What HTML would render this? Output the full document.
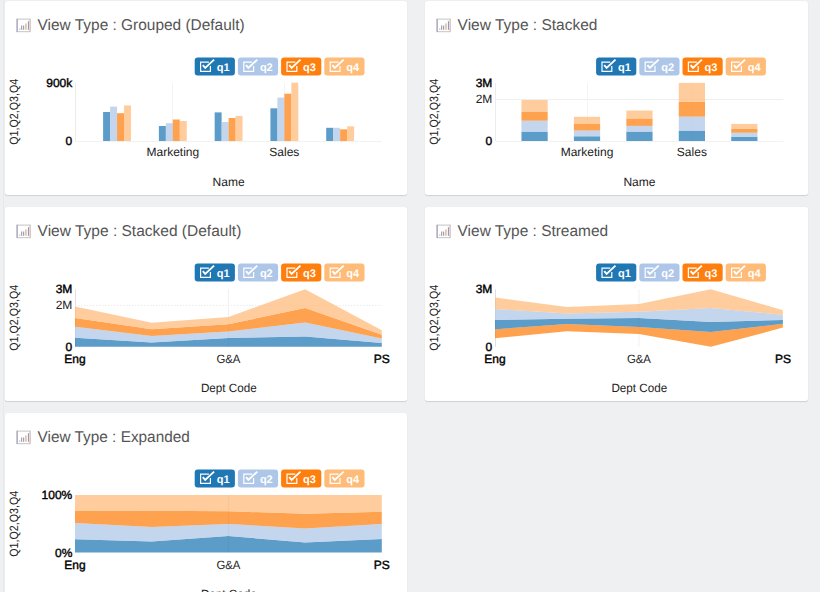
<!DOCTYPE html>
<html><head><meta charset="utf-8"><style>
html,body{margin:0;padding:0;}
body{width:820px;height:592px;overflow:hidden;background:#eff0f2;position:relative;font-family:"Liberation Sans", sans-serif;}
.card{position:absolute;background:#fff;border-radius:2.5px;box-shadow:0 1px 1px rgba(0,0,0,0.13),0 0 1px rgba(0,0,0,0.06);overflow:hidden;}
.card svg{display:block;font-family:"Liberation Sans", sans-serif;text-rendering:geometricPrecision;}
.strip{position:absolute;left:3px;top:0;width:1px;height:592px;background:#e8e9ec;}
</style></head><body>
<div class="strip"></div>
<div class="card" style="left:5px;top:1px;width:402px;height:194px"><svg width="402" height="194" viewBox="5 1 402 194"><rect x="17.1" y="19.1" width="13" height="12.6" fill="none" stroke="#c4c4c4" stroke-width="1"/><line x1="17.1" y1="18.8" x2="17.1" y2="31.9" stroke="#9b97b5" stroke-width="1"/><line x1="30.1" y1="18.8" x2="30.1" y2="31.9" stroke="#d9c8b0" stroke-width="1"/><rect x="19.2" y="28.4" width="1.1" height="1.4" fill="#b3bccc"/><rect x="21.1" y="25.5" width="1.1" height="4.3" fill="#8d9cbf"/><rect x="23.1" y="25.5" width="1.1" height="4.3" fill="#b58c8c"/><rect x="25.4" y="23.4" width="1.1" height="6.4" fill="#c9a88a"/><rect x="27.9" y="21.2" width="1.1" height="8.6" fill="#9d94c4"/><text x="37.6" y="30.1" font-size="15.6" textLength="207" lengthAdjust="spacingAndGlyphs" fill="#555">View Type : Grouped (Default)</text><rect x="194.7" y="57.4" width="40.2" height="18" rx="3" fill="#1f77b4"/><path d="M208.9 62.1H200.6V71.3H210.4V66" fill="none" stroke="#fff" stroke-width="1.2"/><path d="M202.8 65.2L205.2 67.9L214.1 59.6" fill="none" stroke="#fff" stroke-width="1.9"/><text x="216.7" y="70.8" font-size="11" font-weight="700" fill="#fff">q1</text><rect x="237.9" y="57.4" width="40.2" height="18" rx="3" fill="#aec7e8"/><path d="M252.1 62.1H243.8V71.3H253.6V66" fill="none" stroke="#fff" stroke-width="1.2"/><path d="M246 65.2L248.4 67.9L257.3 59.6" fill="none" stroke="#fff" stroke-width="1.9"/><text x="259.9" y="70.8" font-size="11" font-weight="700" fill="#fff">q2</text><rect x="281.1" y="57.4" width="40.2" height="18" rx="3" fill="#ff7f0e"/><path d="M295.3 62.1H287V71.3H296.8V66" fill="none" stroke="#fff" stroke-width="1.2"/><path d="M289.2 65.2L291.6 67.9L300.5 59.6" fill="none" stroke="#fff" stroke-width="1.9"/><text x="303.1" y="70.8" font-size="11" font-weight="700" fill="#fff">q3</text><rect x="324.3" y="57.4" width="40.2" height="18" rx="3" fill="#ffbb78"/><path d="M338.5 62.1H330.2V71.3H340V66" fill="none" stroke="#fff" stroke-width="1.2"/><path d="M332.4 65.2L334.8 67.9L343.7 59.6" fill="none" stroke="#fff" stroke-width="1.9"/><text x="346.3" y="70.8" font-size="11" font-weight="700" fill="#fff">q4</text><text x="13.6" y="111.8" transform="rotate(-90 13.6 111.8)" text-anchor="middle" dominant-baseline="central" font-size="12" textLength="66" lengthAdjust="spacingAndGlyphs" fill="#222">Q1,Q2,Q3,Q4</text><line x1="75.5" y1="82.7" x2="75.5" y2="141" stroke="#ececec" stroke-width="1"/><line x1="75.5" y1="141.5" x2="381.7" y2="141.5" stroke="#f2f2f2" stroke-width="1"/><line x1="172.5" y1="83" x2="172.5" y2="141" stroke="#f4f4f4" stroke-width="1"/><line x1="284.5" y1="83" x2="284.5" y2="141" stroke="#f4f4f4" stroke-width="1"/><rect x="103.11" y="112" width="6.97" height="29" fill="#1f77b4" fill-opacity="0.73"/><rect x="110.08" y="106.6" width="6.97" height="34.4" fill="#aec7e8" fill-opacity="0.73"/><rect x="117.05" y="113.2" width="6.97" height="27.8" fill="#ff7f0e" fill-opacity="0.73"/><rect x="124.02" y="105.4" width="6.97" height="35.6" fill="#ffbb78" fill-opacity="0.73"/><rect x="158.88" y="126" width="6.97" height="15" fill="#1f77b4" fill-opacity="0.73"/><rect x="165.85" y="123.2" width="6.97" height="17.8" fill="#aec7e8" fill-opacity="0.73"/><rect x="172.83" y="119.5" width="6.97" height="21.5" fill="#ff7f0e" fill-opacity="0.73"/><rect x="179.8" y="121" width="6.97" height="20" fill="#ffbb78" fill-opacity="0.73"/><rect x="214.66" y="112.4" width="6.97" height="28.6" fill="#1f77b4" fill-opacity="0.73"/><rect x="221.63" y="122" width="6.97" height="19" fill="#aec7e8" fill-opacity="0.73"/><rect x="228.6" y="118" width="6.97" height="23" fill="#ff7f0e" fill-opacity="0.73"/><rect x="235.57" y="115.9" width="6.97" height="25.1" fill="#ffbb78" fill-opacity="0.73"/><rect x="270.43" y="108.3" width="6.97" height="32.7" fill="#1f77b4" fill-opacity="0.73"/><rect x="277.4" y="97.6" width="6.97" height="43.4" fill="#aec7e8" fill-opacity="0.73"/><rect x="284.37" y="93.7" width="6.97" height="47.3" fill="#ff7f0e" fill-opacity="0.73"/><rect x="291.35" y="82.7" width="6.97" height="58.3" fill="#ffbb78" fill-opacity="0.73"/><rect x="326.2" y="127.8" width="6.97" height="13.2" fill="#1f77b4" fill-opacity="0.73"/><rect x="333.18" y="127.8" width="6.97" height="13.2" fill="#aec7e8" fill-opacity="0.73"/><rect x="340.15" y="129.3" width="6.97" height="11.7" fill="#ff7f0e" fill-opacity="0.73"/><rect x="347.12" y="126.3" width="6.97" height="14.7" fill="#ffbb78" fill-opacity="0.73"/><text x="72.3" y="87.2" text-anchor="end" font-size="12" fill="#000" stroke="#000" stroke-width="0.4">900k</text><text x="72.3" y="144.8" text-anchor="end" font-size="12" fill="#000" stroke="#000" stroke-width="0.4">0</text><text x="172.83" y="156" text-anchor="middle" font-size="12" fill="#222">Marketing</text><text x="284.37" y="156" text-anchor="middle" font-size="12" fill="#222">Sales</text><text x="228.6" y="186" text-anchor="middle" font-size="12" fill="#222">Name</text></svg></div><div class="card" style="left:425px;top:1px;width:383px;height:194px"><svg width="383" height="194" viewBox="425 1 383 194"><rect x="437.1" y="19.1" width="13" height="12.6" fill="none" stroke="#c4c4c4" stroke-width="1"/><line x1="437.1" y1="18.8" x2="437.1" y2="31.9" stroke="#9b97b5" stroke-width="1"/><line x1="450.1" y1="18.8" x2="450.1" y2="31.9" stroke="#d9c8b0" stroke-width="1"/><rect x="439.2" y="28.4" width="1.1" height="1.4" fill="#b3bccc"/><rect x="441.1" y="25.5" width="1.1" height="4.3" fill="#8d9cbf"/><rect x="443.1" y="25.5" width="1.1" height="4.3" fill="#b58c8c"/><rect x="445.4" y="23.4" width="1.1" height="6.4" fill="#c9a88a"/><rect x="447.9" y="21.2" width="1.1" height="8.6" fill="#9d94c4"/><text x="457.6" y="30.1" font-size="15.6" textLength="139.8" lengthAdjust="spacingAndGlyphs" fill="#555">View Type : Stacked</text><rect x="596.1" y="57.4" width="40.2" height="18" rx="3" fill="#1f77b4"/><path d="M610.3 62.1H602V71.3H611.8V66" fill="none" stroke="#fff" stroke-width="1.2"/><path d="M604.2 65.2L606.6 67.9L615.5 59.6" fill="none" stroke="#fff" stroke-width="1.9"/><text x="618.1" y="70.8" font-size="11" font-weight="700" fill="#fff">q1</text><rect x="639.3" y="57.4" width="40.2" height="18" rx="3" fill="#aec7e8"/><path d="M653.5 62.1H645.2V71.3H655V66" fill="none" stroke="#fff" stroke-width="1.2"/><path d="M647.4 65.2L649.8 67.9L658.7 59.6" fill="none" stroke="#fff" stroke-width="1.9"/><text x="661.3" y="70.8" font-size="11" font-weight="700" fill="#fff">q2</text><rect x="682.5" y="57.4" width="40.2" height="18" rx="3" fill="#ff7f0e"/><path d="M696.7 62.1H688.4V71.3H698.2V66" fill="none" stroke="#fff" stroke-width="1.2"/><path d="M690.6 65.2L693 67.9L701.9 59.6" fill="none" stroke="#fff" stroke-width="1.9"/><text x="704.5" y="70.8" font-size="11" font-weight="700" fill="#fff">q3</text><rect x="725.7" y="57.4" width="40.2" height="18" rx="3" fill="#ffbb78"/><path d="M739.9 62.1H731.6V71.3H741.4V66" fill="none" stroke="#fff" stroke-width="1.2"/><path d="M733.8 65.2L736.2 67.9L745.1 59.6" fill="none" stroke="#fff" stroke-width="1.9"/><text x="747.7" y="70.8" font-size="11" font-weight="700" fill="#fff">q4</text><text x="433.6" y="111.8" transform="rotate(-90 433.6 111.8)" text-anchor="middle" dominant-baseline="central" font-size="12" textLength="66" lengthAdjust="spacingAndGlyphs" fill="#222">Q1,Q2,Q3,Q4</text><line x1="495.5" y1="82.9" x2="495.5" y2="141" stroke="#ececec" stroke-width="1"/><line x1="495.5" y1="141.5" x2="783.4" y2="141.5" stroke="#f2f2f2" stroke-width="1"/><line x1="495.5" y1="99.5" x2="783.4" y2="99.5" stroke="#efefef" stroke-width="1"/><line x1="587.5" y1="83.2" x2="587.5" y2="141" stroke="#f4f4f4" stroke-width="1"/><line x1="691.5" y1="83.2" x2="691.5" y2="141" stroke="#f4f4f4" stroke-width="1"/><rect x="521.46" y="131.7" width="26.22" height="9.3" fill="#1f77b4" fill-opacity="0.73"/><rect x="521.46" y="120.7" width="26.22" height="11" fill="#aec7e8" fill-opacity="0.73"/><rect x="521.46" y="111.7" width="26.22" height="9" fill="#ff7f0e" fill-opacity="0.73"/><rect x="521.46" y="100" width="26.22" height="11.7" fill="#ffbb78" fill-opacity="0.73"/><rect x="573.9" y="136.3" width="26.22" height="4.7" fill="#1f77b4" fill-opacity="0.73"/><rect x="573.9" y="130.5" width="26.22" height="5.8" fill="#aec7e8" fill-opacity="0.73"/><rect x="573.9" y="123.7" width="26.22" height="6.8" fill="#ff7f0e" fill-opacity="0.73"/><rect x="573.9" y="116.8" width="26.22" height="6.9" fill="#ffbb78" fill-opacity="0.73"/><rect x="626.34" y="131.7" width="26.22" height="9.3" fill="#1f77b4" fill-opacity="0.73"/><rect x="626.34" y="125.9" width="26.22" height="5.8" fill="#aec7e8" fill-opacity="0.73"/><rect x="626.34" y="118.5" width="26.22" height="7.4" fill="#ff7f0e" fill-opacity="0.73"/><rect x="626.34" y="110.5" width="26.22" height="8" fill="#ffbb78" fill-opacity="0.73"/><rect x="678.78" y="130.7" width="26.22" height="10.3" fill="#1f77b4" fill-opacity="0.73"/><rect x="678.78" y="116.6" width="26.22" height="14.1" fill="#aec7e8" fill-opacity="0.73"/><rect x="678.78" y="101.7" width="26.22" height="14.9" fill="#ff7f0e" fill-opacity="0.73"/><rect x="678.78" y="82.9" width="26.22" height="18.8" fill="#ffbb78" fill-opacity="0.73"/><rect x="731.22" y="136.8" width="26.22" height="4.2" fill="#1f77b4" fill-opacity="0.73"/><rect x="731.22" y="132.7" width="26.22" height="4.1" fill="#aec7e8" fill-opacity="0.73"/><rect x="731.22" y="128.8" width="26.22" height="3.9" fill="#ff7f0e" fill-opacity="0.73"/><rect x="731.22" y="123.9" width="26.22" height="4.9" fill="#ffbb78" fill-opacity="0.73"/><text x="492.3" y="87.2" text-anchor="end" font-size="12" fill="#000" stroke="#000" stroke-width="0.4">3M</text><text x="492.3" y="103" text-anchor="end" font-size="12" fill="#222">2M</text><text x="492.3" y="144.8" text-anchor="end" font-size="12" fill="#000" stroke="#000" stroke-width="0.4">0</text><text x="587.01" y="156" text-anchor="middle" font-size="12" fill="#222">Marketing</text><text x="691.89" y="156" text-anchor="middle" font-size="12" fill="#222">Sales</text><text x="639.45" y="186" text-anchor="middle" font-size="12" fill="#222">Name</text></svg></div><div class="card" style="left:5px;top:207px;width:402px;height:194px"><svg width="402" height="194" viewBox="5 207 402 194"><rect x="17.1" y="225.1" width="13" height="12.6" fill="none" stroke="#c4c4c4" stroke-width="1"/><line x1="17.1" y1="224.8" x2="17.1" y2="237.9" stroke="#9b97b5" stroke-width="1"/><line x1="30.1" y1="224.8" x2="30.1" y2="237.9" stroke="#d9c8b0" stroke-width="1"/><rect x="19.2" y="234.4" width="1.1" height="1.4" fill="#b3bccc"/><rect x="21.1" y="231.5" width="1.1" height="4.3" fill="#8d9cbf"/><rect x="23.1" y="231.5" width="1.1" height="4.3" fill="#b58c8c"/><rect x="25.4" y="229.4" width="1.1" height="6.4" fill="#c9a88a"/><rect x="27.9" y="227.2" width="1.1" height="8.6" fill="#9d94c4"/><text x="37.6" y="236.1" font-size="15.6" textLength="203.7" lengthAdjust="spacingAndGlyphs" fill="#555">View Type : Stacked (Default)</text><rect x="194.7" y="263.4" width="40.2" height="18" rx="3" fill="#1f77b4"/><path d="M208.9 268.1H200.6V277.3H210.4V272" fill="none" stroke="#fff" stroke-width="1.2"/><path d="M202.8 271.2L205.2 273.9L214.1 265.6" fill="none" stroke="#fff" stroke-width="1.9"/><text x="216.7" y="276.8" font-size="11" font-weight="700" fill="#fff">q1</text><rect x="237.9" y="263.4" width="40.2" height="18" rx="3" fill="#aec7e8"/><path d="M252.1 268.1H243.8V277.3H253.6V272" fill="none" stroke="#fff" stroke-width="1.2"/><path d="M246 271.2L248.4 273.9L257.3 265.6" fill="none" stroke="#fff" stroke-width="1.9"/><text x="259.9" y="276.8" font-size="11" font-weight="700" fill="#fff">q2</text><rect x="281.1" y="263.4" width="40.2" height="18" rx="3" fill="#ff7f0e"/><path d="M295.3 268.1H287V277.3H296.8V272" fill="none" stroke="#fff" stroke-width="1.2"/><path d="M289.2 271.2L291.6 273.9L300.5 265.6" fill="none" stroke="#fff" stroke-width="1.9"/><text x="303.1" y="276.8" font-size="11" font-weight="700" fill="#fff">q3</text><rect x="324.3" y="263.4" width="40.2" height="18" rx="3" fill="#ffbb78"/><path d="M338.5 268.1H330.2V277.3H340V272" fill="none" stroke="#fff" stroke-width="1.2"/><path d="M332.4 271.2L334.8 273.9L343.7 265.6" fill="none" stroke="#fff" stroke-width="1.9"/><text x="346.3" y="276.8" font-size="11" font-weight="700" fill="#fff">q4</text><text x="13.6" y="317.8" transform="rotate(-90 13.6 317.8)" text-anchor="middle" dominant-baseline="central" font-size="12" textLength="66" lengthAdjust="spacingAndGlyphs" fill="#222">Q1,Q2,Q3,Q4</text><line x1="75.5" y1="289.2" x2="75.5" y2="346.8" stroke="#e0e0e0" stroke-width="1"/><line x1="75" y1="305.4" x2="381.8" y2="305.4" stroke="#ebebeb" stroke-width="1" stroke-dasharray="1.5,1.5"/><line x1="228.4" y1="289.2" x2="228.4" y2="346.8" stroke="#f0f0f0" stroke-width="1"/><path d="M75 337.8L151.7 342.4L228.4 337.9L305.1 336.6L381.8 343L381.8 346.8L305.1 346.8L228.4 346.8L151.7 346.8L75 346.8Z" fill="#1f77b4" fill-opacity="0.73"/><path d="M75 326.8L151.7 335.9L228.4 331.5L305.1 322.5L381.8 338.4L381.8 343L305.1 336.6L228.4 337.9L151.7 342.4L75 337.8Z" fill="#aec7e8" fill-opacity="0.73"/><path d="M75 318L151.7 329.3L228.4 324.3L305.1 307.9L381.8 334.8L381.8 338.4L305.1 322.5L228.4 331.5L151.7 335.9L75 326.8Z" fill="#ff7f0e" fill-opacity="0.73"/><path d="M75 306.6L151.7 322.7L228.4 316.9L305.1 289.2L381.8 330.2L381.8 334.8L305.1 307.9L228.4 324.3L151.7 329.3L75 318Z" fill="#ffbb78" fill-opacity="0.73"/><text x="72.3" y="293.3" text-anchor="end" font-size="12" fill="#000" stroke="#000" stroke-width="0.4">3M</text><text x="72.3" y="308.8" text-anchor="end" font-size="12" fill="#222">2M</text><text x="72.3" y="350.8" text-anchor="end" font-size="12" fill="#000" stroke="#000" stroke-width="0.4">0</text><text x="75" y="362.6" text-anchor="middle" font-size="12" fill="#000" stroke="#000" stroke-width="0.4">Eng</text><text x="228.4" y="362.6" text-anchor="middle" font-size="12" fill="#222" textLength="24" lengthAdjust="spacingAndGlyphs">G&amp;A</text><text x="381.8" y="362.6" text-anchor="middle" font-size="12" fill="#000" stroke="#000" stroke-width="0.4">PS</text><text x="228.8" y="392" text-anchor="middle" font-size="12" fill="#222" textLength="55.8" lengthAdjust="spacingAndGlyphs">Dept Code</text></svg></div><div class="card" style="left:425px;top:207px;width:383px;height:194px"><svg width="383" height="194" viewBox="425 207 383 194"><rect x="437.1" y="225.1" width="13" height="12.6" fill="none" stroke="#c4c4c4" stroke-width="1"/><line x1="437.1" y1="224.8" x2="437.1" y2="237.9" stroke="#9b97b5" stroke-width="1"/><line x1="450.1" y1="224.8" x2="450.1" y2="237.9" stroke="#d9c8b0" stroke-width="1"/><rect x="439.2" y="234.4" width="1.1" height="1.4" fill="#b3bccc"/><rect x="441.1" y="231.5" width="1.1" height="4.3" fill="#8d9cbf"/><rect x="443.1" y="231.5" width="1.1" height="4.3" fill="#b58c8c"/><rect x="445.4" y="229.4" width="1.1" height="6.4" fill="#c9a88a"/><rect x="447.9" y="227.2" width="1.1" height="8.6" fill="#9d94c4"/><text x="457.6" y="236.1" font-size="15.6" textLength="150.5" lengthAdjust="spacingAndGlyphs" fill="#555">View Type : Streamed</text><rect x="596.1" y="263.4" width="40.2" height="18" rx="3" fill="#1f77b4"/><path d="M610.3 268.1H602V277.3H611.8V272" fill="none" stroke="#fff" stroke-width="1.2"/><path d="M604.2 271.2L606.6 273.9L615.5 265.6" fill="none" stroke="#fff" stroke-width="1.9"/><text x="618.1" y="276.8" font-size="11" font-weight="700" fill="#fff">q1</text><rect x="639.3" y="263.4" width="40.2" height="18" rx="3" fill="#aec7e8"/><path d="M653.5 268.1H645.2V277.3H655V272" fill="none" stroke="#fff" stroke-width="1.2"/><path d="M647.4 271.2L649.8 273.9L658.7 265.6" fill="none" stroke="#fff" stroke-width="1.9"/><text x="661.3" y="276.8" font-size="11" font-weight="700" fill="#fff">q2</text><rect x="682.5" y="263.4" width="40.2" height="18" rx="3" fill="#ff7f0e"/><path d="M696.7 268.1H688.4V277.3H698.2V272" fill="none" stroke="#fff" stroke-width="1.2"/><path d="M690.6 271.2L693 273.9L701.9 265.6" fill="none" stroke="#fff" stroke-width="1.9"/><text x="704.5" y="276.8" font-size="11" font-weight="700" fill="#fff">q3</text><rect x="725.7" y="263.4" width="40.2" height="18" rx="3" fill="#ffbb78"/><path d="M739.9 268.1H731.6V277.3H741.4V272" fill="none" stroke="#fff" stroke-width="1.2"/><path d="M733.8 271.2L736.2 273.9L745.1 265.6" fill="none" stroke="#fff" stroke-width="1.9"/><text x="747.7" y="276.8" font-size="11" font-weight="700" fill="#fff">q4</text><text x="433.6" y="317.8" transform="rotate(-90 433.6 317.8)" text-anchor="middle" dominant-baseline="central" font-size="12" textLength="66" lengthAdjust="spacingAndGlyphs" fill="#222">Q1,Q2,Q3,Q4</text><line x1="495.5" y1="289.2" x2="495.5" y2="346.8" stroke="#e0e0e0" stroke-width="1"/><line x1="638.95" y1="289.2" x2="638.95" y2="346.8" stroke="#f0f0f0" stroke-width="1"/><path d="M495 329.3L566.98 324.1L638.95 326.9L710.92 332L782.9 323.8L782.9 327.6L710.92 346.8L638.95 334L566.98 331.2L495 338.3Z" fill="#ff7f0e" fill-opacity="0.73"/><path d="M495 320L566.98 318.8L638.95 318.1L710.92 322L782.9 319.9L782.9 323.8L710.92 332L638.95 326.9L566.98 324.1L495 329.3Z" fill="#1f77b4" fill-opacity="0.73"/><path d="M495 309L566.98 313.4L638.95 311.7L710.92 307.9L782.9 314.8L782.9 319.9L710.92 322L638.95 318.1L566.98 318.8L495 320Z" fill="#aec7e8" fill-opacity="0.73"/><path d="M495 297.6L566.98 307L638.95 304L710.92 289.2L782.9 310.2L782.9 314.8L710.92 307.9L638.95 311.7L566.98 313.4L495 309Z" fill="#ffbb78" fill-opacity="0.73"/><text x="492.3" y="293.3" text-anchor="end" font-size="12" fill="#000" stroke="#000" stroke-width="0.4">3M</text><text x="492.3" y="350.8" text-anchor="end" font-size="12" fill="#000" stroke="#000" stroke-width="0.4">0</text><text x="495" y="362.6" text-anchor="middle" font-size="12" fill="#000" stroke="#000" stroke-width="0.4">Eng</text><text x="638.95" y="362.6" text-anchor="middle" font-size="12" fill="#222" textLength="24" lengthAdjust="spacingAndGlyphs">G&amp;A</text><text x="782.9" y="362.6" text-anchor="middle" font-size="12" fill="#000" stroke="#000" stroke-width="0.4">PS</text><text x="639.35" y="392" text-anchor="middle" font-size="12" fill="#222" textLength="55.8" lengthAdjust="spacingAndGlyphs">Dept Code</text></svg></div><div class="card" style="left:5px;top:413px;width:402px;height:194px"><svg width="402" height="194" viewBox="5 413 402 194"><rect x="17.1" y="431.1" width="13" height="12.6" fill="none" stroke="#c4c4c4" stroke-width="1"/><line x1="17.1" y1="430.8" x2="17.1" y2="443.9" stroke="#9b97b5" stroke-width="1"/><line x1="30.1" y1="430.8" x2="30.1" y2="443.9" stroke="#d9c8b0" stroke-width="1"/><rect x="19.2" y="440.4" width="1.1" height="1.4" fill="#b3bccc"/><rect x="21.1" y="437.5" width="1.1" height="4.3" fill="#8d9cbf"/><rect x="23.1" y="437.5" width="1.1" height="4.3" fill="#b58c8c"/><rect x="25.4" y="435.4" width="1.1" height="6.4" fill="#c9a88a"/><rect x="27.9" y="433.2" width="1.1" height="8.6" fill="#9d94c4"/><text x="37.6" y="442.1" font-size="15.6" textLength="152.2" lengthAdjust="spacingAndGlyphs" fill="#555">View Type : Expanded</text><rect x="194.7" y="469.4" width="40.2" height="18" rx="3" fill="#1f77b4"/><path d="M208.9 474.1H200.6V483.3H210.4V478" fill="none" stroke="#fff" stroke-width="1.2"/><path d="M202.8 477.2L205.2 479.9L214.1 471.6" fill="none" stroke="#fff" stroke-width="1.9"/><text x="216.7" y="482.8" font-size="11" font-weight="700" fill="#fff">q1</text><rect x="237.9" y="469.4" width="40.2" height="18" rx="3" fill="#aec7e8"/><path d="M252.1 474.1H243.8V483.3H253.6V478" fill="none" stroke="#fff" stroke-width="1.2"/><path d="M246 477.2L248.4 479.9L257.3 471.6" fill="none" stroke="#fff" stroke-width="1.9"/><text x="259.9" y="482.8" font-size="11" font-weight="700" fill="#fff">q2</text><rect x="281.1" y="469.4" width="40.2" height="18" rx="3" fill="#ff7f0e"/><path d="M295.3 474.1H287V483.3H296.8V478" fill="none" stroke="#fff" stroke-width="1.2"/><path d="M289.2 477.2L291.6 479.9L300.5 471.6" fill="none" stroke="#fff" stroke-width="1.9"/><text x="303.1" y="482.8" font-size="11" font-weight="700" fill="#fff">q3</text><rect x="324.3" y="469.4" width="40.2" height="18" rx="3" fill="#ffbb78"/><path d="M338.5 474.1H330.2V483.3H340V478" fill="none" stroke="#fff" stroke-width="1.2"/><path d="M332.4 477.2L334.8 479.9L343.7 471.6" fill="none" stroke="#fff" stroke-width="1.9"/><text x="346.3" y="482.8" font-size="11" font-weight="700" fill="#fff">q4</text><text x="13.6" y="523.8" transform="rotate(-90 13.6 523.8)" text-anchor="middle" dominant-baseline="central" font-size="12" textLength="66" lengthAdjust="spacingAndGlyphs" fill="#222">Q1,Q2,Q3,Q4</text><path d="M75 539.3L151.7 541.6L228.4 536L305.1 542.5L381.8 538.9L381.8 552.6L305.1 552.6L228.4 552.6L151.7 552.6L75 552.6Z" fill="#1f77b4" fill-opacity="0.73"/><path d="M75 523.1L151.7 527L228.4 524L305.1 528.4L381.8 524L381.8 538.9L305.1 542.5L228.4 536L151.7 541.6L75 539.3Z" fill="#aec7e8" fill-opacity="0.73"/><path d="M75 511.1L151.7 510.8L228.4 511.2L305.1 513.8L381.8 511.7L381.8 524L305.1 528.4L228.4 524L151.7 527L75 523.1Z" fill="#ff7f0e" fill-opacity="0.73"/><path d="M75 495L151.7 495L228.4 495L305.1 495L381.8 495L381.8 511.7L305.1 513.8L228.4 511.2L151.7 510.8L75 511.1Z" fill="#ffbb78" fill-opacity="0.73"/><line x1="228.4" y1="495" x2="228.4" y2="552.6" stroke="rgba(0,0,0,0.04)" stroke-width="1"/><text x="72.3" y="499.1" text-anchor="end" font-size="12" fill="#000" stroke="#000" stroke-width="0.4">100%</text><text x="72.3" y="556.7" text-anchor="end" font-size="12" fill="#000" stroke="#000" stroke-width="0.4">0%</text><text x="75" y="568.6" text-anchor="middle" font-size="12" fill="#000" stroke="#000" stroke-width="0.4">Eng</text><text x="228.4" y="568.6" text-anchor="middle" font-size="12" fill="#222" textLength="24" lengthAdjust="spacingAndGlyphs">G&amp;A</text><text x="381.8" y="568.6" text-anchor="middle" font-size="12" fill="#000" stroke="#000" stroke-width="0.4">PS</text><text x="228.8" y="598" text-anchor="middle" font-size="12" fill="#222" textLength="55.8" lengthAdjust="spacingAndGlyphs">Dept Code</text></svg></div>
</body></html>
